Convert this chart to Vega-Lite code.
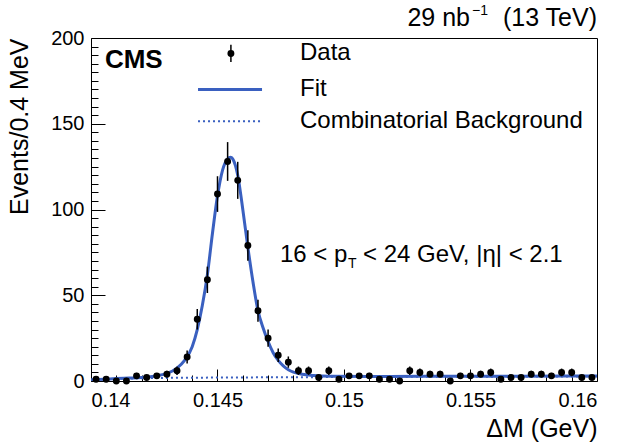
{
  "$schema": "https://vega.github.io/schema/vega-lite/v6.json",
  "width": 506,
  "height": 343,
  "autosize": {"type": "none"},
  "padding": {"left": 91, "top": 38, "right": 23, "bottom": 64},
  "background": "white",
  "config": {
    "view": {"stroke": "black", "strokeWidth": 1},
    "font": "Liberation Sans",
    "axis": {"labelFont": "Liberation Sans", "titleFont": "Liberation Sans", "labelColor": "black", "titleColor": "black", "tickColor": "black", "titleFontWeight": "normal", "grid": false, "domain": false, "labelFontSize": 20, "titleFontSize": 25, "labelOverlap": false}
  },
  "datasets": {
    "hist": [
      {"x": 0.1402, "n": 1, "lo": 0, "hi": 2},
      {"x": 0.1406, "n": 1, "lo": 0, "hi": 2},
      {"x": 0.1410, "n": 0, "lo": 0, "hi": 1.8},
      {"x": 0.1414, "n": 0, "lo": 0, "hi": 1.8},
      {"x": 0.1418, "n": 3, "lo": 1.27, "hi": 4.73},
      {"x": 0.1422, "n": 2, "lo": 0.59, "hi": 3.41},
      {"x": 0.1426, "n": 3, "lo": 1.27, "hi": 4.73},
      {"x": 0.1430, "n": 4, "lo": 2, "hi": 6},
      {"x": 0.1434, "n": 6, "lo": 3.55, "hi": 8.45},
      {"x": 0.1438, "n": 14, "lo": 10.26, "hi": 17.74},
      {"x": 0.1442, "n": 36, "lo": 30, "hi": 42},
      {"x": 0.1446, "n": 59, "lo": 51.3, "hi": 66.7},
      {"x": 0.1450, "n": 109, "lo": 98.6, "hi": 119.4},
      {"x": 0.1454, "n": 128, "lo": 116.7, "hi": 139.3},
      {"x": 0.1458, "n": 117, "lo": 106.2, "hi": 127.8},
      {"x": 0.1462, "n": 79, "lo": 70.1, "hi": 87.9},
      {"x": 0.1466, "n": 41, "lo": 34.6, "hi": 47.4},
      {"x": 0.1470, "n": 25, "lo": 20, "hi": 30},
      {"x": 0.1474, "n": 15, "lo": 11.1, "hi": 18.9},
      {"x": 0.1478, "n": 11, "lo": 7.7, "hi": 14.3},
      {"x": 0.1482, "n": 6, "lo": 3.55, "hi": 8.45},
      {"x": 0.1486, "n": 6, "lo": 3.55, "hi": 8.45},
      {"x": 0.1490, "n": 2, "lo": 0.59, "hi": 3.41},
      {"x": 0.1494, "n": 6, "lo": 3.55, "hi": 8.45},
      {"x": 0.1498, "n": 1, "lo": 0, "hi": 2},
      {"x": 0.1502, "n": 3, "lo": 1.27, "hi": 4.73},
      {"x": 0.1506, "n": 3, "lo": 1.27, "hi": 4.73},
      {"x": 0.1510, "n": 3, "lo": 1.27, "hi": 4.73},
      {"x": 0.1514, "n": 1, "lo": 0, "hi": 2},
      {"x": 0.1518, "n": 1, "lo": 0, "hi": 2},
      {"x": 0.1522, "n": 0, "lo": 0, "hi": 1.8},
      {"x": 0.1526, "n": 6, "lo": 3.55, "hi": 8.45},
      {"x": 0.1530, "n": 5, "lo": 2.76, "hi": 7.24},
      {"x": 0.1534, "n": 4, "lo": 2, "hi": 6},
      {"x": 0.1538, "n": 4, "lo": 2, "hi": 6},
      {"x": 0.1542, "n": 0, "lo": 0, "hi": 1.8},
      {"x": 0.1546, "n": 3, "lo": 1.27, "hi": 4.73},
      {"x": 0.1550, "n": 3, "lo": 1.27, "hi": 4.73},
      {"x": 0.1554, "n": 4, "lo": 2, "hi": 6},
      {"x": 0.1558, "n": 5, "lo": 2.76, "hi": 7.24},
      {"x": 0.1562, "n": 1, "lo": 0, "hi": 2},
      {"x": 0.1566, "n": 2, "lo": 0.59, "hi": 3.41},
      {"x": 0.1570, "n": 2, "lo": 0.59, "hi": 3.41},
      {"x": 0.1574, "n": 4, "lo": 2, "hi": 6},
      {"x": 0.1578, "n": 4, "lo": 2, "hi": 6},
      {"x": 0.1582, "n": 3, "lo": 1.27, "hi": 4.73},
      {"x": 0.1586, "n": 5, "lo": 2.76, "hi": 7.24},
      {"x": 0.1590, "n": 5, "lo": 2.76, "hi": 7.24},
      {"x": 0.1594, "n": 2, "lo": 0.59, "hi": 3.41},
      {"x": 0.1598, "n": 2, "lo": 0.59, "hi": 3.41}
    ],
    "fit": [
      {"x": 0.1400, "y": 0.7}, {"x": 0.1405, "y": 1.0}, {"x": 0.1410, "y": 1.4}, {"x": 0.1415, "y": 1.7},
      {"x": 0.1420, "y": 2.0}, {"x": 0.1425, "y": 2.8}, {"x": 0.1430, "y": 4.4}, {"x": 0.1434, "y": 7.5},
      {"x": 0.1437, "y": 12}, {"x": 0.1440, "y": 20}, {"x": 0.1442, "y": 30}, {"x": 0.1444, "y": 44},
      {"x": 0.1446, "y": 62}, {"x": 0.1448, "y": 86}, {"x": 0.1450, "y": 108}, {"x": 0.1452, "y": 123},
      {"x": 0.1454, "y": 129.5}, {"x": 0.14552, "y": 130.5}, {"x": 0.1456, "y": 129.5}, {"x": 0.1458, "y": 120},
      {"x": 0.1460, "y": 100}, {"x": 0.1462, "y": 78}, {"x": 0.1464, "y": 58}, {"x": 0.1466, "y": 41},
      {"x": 0.1468, "y": 31}, {"x": 0.1470, "y": 23}, {"x": 0.1472, "y": 16.5}, {"x": 0.1474, "y": 12},
      {"x": 0.1476, "y": 8.8}, {"x": 0.1478, "y": 6.6}, {"x": 0.1480, "y": 5.2}, {"x": 0.1482, "y": 4.4},
      {"x": 0.1485, "y": 3.6}, {"x": 0.1488, "y": 3.2}, {"x": 0.1495, "y": 2.8}, {"x": 0.1510, "y": 2.6},
      {"x": 0.1530, "y": 2.7}, {"x": 0.1550, "y": 2.75}, {"x": 0.1570, "y": 2.8}, {"x": 0.1600, "y": 2.9}
    ],
    "bkg": [
      {"x": 0.1400, "y": 0.6}, {"x": 0.1405, "y": 1.0}, {"x": 0.1410, "y": 1.3}, {"x": 0.1420, "y": 1.6},
      {"x": 0.1430, "y": 1.8}, {"x": 0.1450, "y": 2.0}, {"x": 0.1500, "y": 2.3}, {"x": 0.1550, "y": 2.5},
      {"x": 0.1600, "y": 2.7}
    ],
    "legpt": [{"x": 0.14553, "y": 191, "lo": 186, "hi": 196}],
    "legfit": [{"x": 0.14423, "x2": 0.14676, "y": 170}],
    "legbkg": [{"x": 0.14423, "x2": 0.14676, "y": 151.5}],
    "texts": [
      {"x": 0.14826, "y": 191, "label": "Data"},
      {"x": 0.14826, "y": 170, "label": "Fit"},
      {"x": 0.14826, "y": 151.5, "label": "Combinatorial Background"},
      {"x": 0.14747, "y": 73.5, "label": "16 < p"},
      {"x": 0.15075, "y": 73.5, "label": "< 24 GeV, |η| < 2.1"}
    ],
    "lumiL": [{"x": 0.15498, "y": 211.7, "label": "29 nb"}],
    "lumiR": [{"x": 0.16, "y": 211.7, "label": "(13 TeV)"}],
    "sup": [{"x": 0.15506, "y": 216, "label": "−1"}],
    "sub": [{"x": 0.15016, "y": 68.3, "label": "T"}],
    "cms": [{"x": 0.14055, "y": 187, "label": "CMS"}]
  },
  "encoding": {
    "x": {"type": "quantitative", "scale": {"domain": [0.14, 0.16], "nice": false, "zero": false},
      "axis": {"title": "ΔM (GeV)", "titleAnchor": "end", "titlePadding": 0, "labelPadding": 21,
        "values": [0.14, 0.141, 0.142, 0.143, 0.144, 0.145, 0.146, 0.147, 0.148, 0.149, 0.15, 0.151, 0.152, 0.153, 0.154, 0.155, 0.156, 0.157, 0.158, 0.159, 0.16],
        "labelExpr": "(abs(datum.value*200 - round(datum.value*200)) < 1e-6) ? format(datum.value, '~g') : ''",
        "tickSize": {"condition": {"test": "abs(datum.value*200 - round(datum.value*200)) < 1e-6", "value": -12}, "value": -6}}},
    "y": {"type": "quantitative", "scale": {"domain": [0, 200], "nice": false},
      "axis": {"title": "Events/0.4 MeV", "titleAnchor": "end", "titlePadding": 18, "labelPadding": 21,
        "values": [0,5,10,15,20,25,30,35,40,45,50,55,60,65,70,75,80,85,90,95,100,105,110,115,120,125,130,135,140,145,150,155,160,165,170,175,180,185,190,195,200],
        "labelExpr": "datum.value % 50 === 0 ? datum.label : ''",
        "tickSize": {"condition": {"test": "datum.value % 50 === 0", "value": -14}, "value": -7}}}
  },
  "layer": [
    {"data": {"name": "bkg"}, "mark": {"type": "line", "color": "#3a60c0", "strokeWidth": 2, "strokeDash": [2, 3], "interpolate": "monotone", "clip": true},
      "encoding": {"x": {"field": "x", "type": "quantitative"}, "y": {"field": "y", "type": "quantitative"}}},
    {"data": {"name": "fit"}, "mark": {"type": "line", "color": "#3a60c0", "strokeWidth": 3, "interpolate": "monotone", "clip": true},
      "encoding": {"x": {"field": "x", "type": "quantitative"}, "y": {"field": "y", "type": "quantitative"}}},
    {"data": {"name": "hist"}, "mark": {"type": "rule", "color": "black", "strokeWidth": 1.5},
      "encoding": {"x": {"field": "x", "type": "quantitative"}, "y": {"field": "lo", "type": "quantitative"}, "y2": {"field": "hi"}}},
    {"data": {"name": "hist"}, "mark": {"type": "point", "filled": true, "color": "black", "size": 48, "opacity": 1},
      "encoding": {"x": {"field": "x", "type": "quantitative"}, "y": {"field": "n", "type": "quantitative"}}},
    {"data": {"name": "legpt"}, "mark": {"type": "rule", "color": "black", "strokeWidth": 1.5},
      "encoding": {"x": {"field": "x", "type": "quantitative"}, "y": {"field": "lo", "type": "quantitative"}, "y2": {"field": "hi"}}},
    {"data": {"name": "legpt"}, "mark": {"type": "point", "filled": true, "color": "black", "size": 48, "opacity": 1},
      "encoding": {"x": {"field": "x", "type": "quantitative"}, "y": {"field": "y", "type": "quantitative"}}},
    {"data": {"name": "legfit"}, "mark": {"type": "rule", "color": "#3a60c0", "strokeWidth": 3},
      "encoding": {"x": {"field": "x", "type": "quantitative"}, "x2": {"field": "x2"}, "y": {"field": "y", "type": "quantitative"}}},
    {"data": {"name": "legbkg"}, "mark": {"type": "rule", "color": "#3a60c0", "strokeWidth": 2, "strokeDash": [2, 3]},
      "encoding": {"x": {"field": "x", "type": "quantitative"}, "x2": {"field": "x2"}, "y": {"field": "y", "type": "quantitative"}}},
    {"data": {"name": "texts"}, "mark": {"type": "text", "align": "left", "baseline": "middle", "fontSize": 24, "color": "black", "font": "Liberation Sans"},
      "encoding": {"x": {"field": "x", "type": "quantitative"}, "y": {"field": "y", "type": "quantitative"}, "text": {"field": "label"}}},
    {"data": {"name": "lumiL"}, "mark": {"type": "text", "align": "right", "baseline": "middle", "fontSize": 25, "color": "black", "font": "Liberation Sans"},
      "encoding": {"x": {"field": "x", "type": "quantitative"}, "y": {"field": "y", "type": "quantitative"}, "text": {"field": "label"}}},
    {"data": {"name": "lumiR"}, "mark": {"type": "text", "align": "right", "baseline": "middle", "fontSize": 25, "color": "black", "font": "Liberation Sans"},
      "encoding": {"x": {"field": "x", "type": "quantitative"}, "y": {"field": "y", "type": "quantitative"}, "text": {"field": "label"}}},
    {"data": {"name": "sup"}, "mark": {"type": "text", "align": "left", "baseline": "middle", "fontSize": 14, "color": "black", "font": "Liberation Sans"},
      "encoding": {"x": {"field": "x", "type": "quantitative"}, "y": {"field": "y", "type": "quantitative"}, "text": {"field": "label"}}},
    {"data": {"name": "sub"}, "mark": {"type": "text", "align": "left", "baseline": "middle", "fontSize": 14, "color": "black", "font": "Liberation Sans"},
      "encoding": {"x": {"field": "x", "type": "quantitative"}, "y": {"field": "y", "type": "quantitative"}, "text": {"field": "label"}}},
    {"data": {"name": "cms"}, "mark": {"type": "text", "align": "left", "baseline": "middle", "fontSize": 26, "fontWeight": "bold", "color": "black", "font": "Liberation Sans"},
      "encoding": {"x": {"field": "x", "type": "quantitative"}, "y": {"field": "y", "type": "quantitative"}, "text": {"field": "label"}}}
  ]
}
